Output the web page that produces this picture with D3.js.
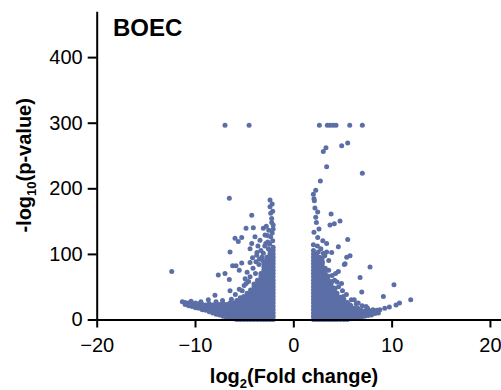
<!DOCTYPE html>
<html>
<head>
<meta charset="utf-8">
<script src="https://cdn.jsdelivr.net/npm/d3@7"></script>
<style>
  body { margin: 0; background: #fff; }
  svg { display: block; font-family: "Liberation Sans", Arial, sans-serif; }
</style>
</head>
<body>
<div id="chart"></div>
<script>
// axis ticks
const xTicks = [-20, -10, 0, 10, 20];
const yTicks = [0, 100, 200, 300, 400];

// scattered genes: [log2FC, -log10 p]
const downOutliers = [
  [-6.95, 296], [-4.5, 296],
  [-6.51, 185], [-2.37, 182], [-2.15, 176], [-2.37, 172], [-2.1, 165], [-2.3, 162],
  [-2.2, 154], [-2.2, 148], [-2.05, 144], [-2.05, 138], [-2.15, 132], [-2.3, 126],
  [-2.1, 120], [-2.6, 118], [-2.4, 115], [-2.9, 112],
  [-4.23, 159], [-4.81, 139], [-4.07, 140], [-3.05, 139], [-3.9, 126], [-5.93, 124],
  [-5.6, 119], [-5.25, 125], [-2.88, 129], [-4.23, 116], [-6.44, 103], [-3.72, 98],
  [-3.05, 101], [-2.54, 108], [-3.39, 121], [-4.4, 108], [-3.6, 112], [-3.3, 105],
  [-3.2, 95], [-3.5, 84], [-3.8, 88],
  [-12.37, 73], [-5.25, 86], [-6.17, 82], [-5.83, 82], [-5.5, 75], [-4.4, 87],
  [-4.7, 72], [-7.63, 68], [-6.95, 70], [-6.51, 61], [-4.4, 65], [-4.9, 62],
  [-5.0, 52], [-6.44, 44], [-5.5, 46], [-7.97, 37], [-8.65, 30], [-7.86, 27],
  [-11.29, 27],
  [-5.9, 38], [-5.2, 44], [-4.8, 55], [-4.55, 58], [-4.1, 78], [-4.15, 94],
  [-3.45, 92], [-3.7, 102], [-2.8, 116], [-2.65, 128], [-2.5, 136], [-2.75, 142],
  [-3.1, 90], [-3.85, 70], [-6.3, 31], [-7.2, 29], [-9.4, 27], [-10.4, 28]
];

const upOutliers = [
  [2.65, 296], [3.46, 296], [3.73, 296], [4.04, 296], [4.34, 296], [5.74, 296], [7.02, 296],
  [3.32, 262], [3.05, 256], [4.92, 265], [5.53, 269], [3.39, 233], [7.02, 223],
  [2.75, 211], [2.28, 197], [2.04, 191], [2.1, 184], [2.14, 181], [2.2, 170],
  [2.48, 164], [2.28, 156], [3.84, 161], [3.73, 144], [4.17, 146], [4.75, 150],
  [2.35, 148], [2.61, 138], [2.1, 133], [2.48, 125], [3.0, 120], [3.39, 116],
  [4.58, 111], [5.53, 122], [2.04, 114], [5.43, 95], [5.77, 97], [5.26, 85],
  [7.8, 80], [3.39, 103], [3.9, 102], [3.05, 101], [2.54, 103], [3.6, 90],
  [6.79, 64], [6.96, 42], [5.09, 35], [9.16, 35], [4.58, 73], [5.19, 84],
  [3.9, 58], [4.3, 70], [4.9, 55], [4.24, 47], [5.77, 22], [6.2, 30], [6.6, 25],
  [7.4, 20], [10.24, 53], [11.94, 30], [10.8, 25], [10.45, 22], [9.77, 19],
  [9.3, 17], [8.8, 15], [7.8, 13],
  [3.6, 75], [3.95, 67], [4.2, 60], [4.6, 50], [4.45, 57], [5.0, 44], [5.4, 38],
  [5.9, 30], [6.4, 24], [7.0, 21], [7.55, 17], [8.1, 15], [8.5, 14],
  [2.8, 108], [3.2, 97], [2.45, 112], [2.95, 94]
];

// densely packed genes near the fold-change cut-off: [log2FC, [-log10 p ...]]
const downDense = [
  [-11.0, [23, 26]],
  [-10.65, [21, 25]],
  [-10.3, [20, 24]],
  [-9.95, [18, 22, 25]],
  [-9.6, [17, 21, 24]],
  [-9.25, [15, 19, 23]],
  [-8.9, [14, 18, 22]],
  [-8.55, [12, 16, 20, 24]],
  [-8.2, [10, 14, 18, 22]],
  [-7.85, [8, 12, 16, 20, 24]],
  [-7.5, [7, 11, 15, 19, 23]],
  [-7.15, [5, 9, 13, 17, 21, 24]],
  [-6.8, [3, 7, 11, 15, 19, 23]],
  [-6.45, [2, 6, 10, 14, 18, 22, 25]],
  [-6.1, [1, 5, 10, 15, 20, 25]],
  [-5.75, [0, 5, 10, 15, 20, 25, 29]],
  [-5.4, [0, 5, 10, 15, 20, 25, 30, 33]],
  [-5.05, [0, 5, 10, 15, 20, 25, 30, 35]],
  [-4.7, [0, 5, 10, 15, 20, 25, 30, 35, 40]],
  [-4.35, [0, 5, 10, 15, 20, 25, 30, 35, 40, 45]],
  [-4.0, [0, 5, 10, 15, 20, 25, 30, 35, 40, 45, 50, 54]],
  [-3.65, [0, 5, 10, 15, 20, 25, 30, 35, 40, 45, 50, 55, 60]],
  [-3.3, [0, 5, 10, 15, 20, 25, 30, 35, 40, 45, 50, 55, 60, 65, 70]],
  [-3.0, [0, 5, 10, 15, 20, 25, 30, 35, 40, 45, 50, 55, 60, 65, 70, 75, 80, 85]],
  [-2.7, [0, 5, 10, 15, 20, 25, 30, 35, 40, 45, 50, 55, 60, 65, 70, 75, 80, 85, 90, 95]],
  [-2.38, [0, 5, 10, 15, 20, 25, 30, 35, 40, 45, 50, 55, 60, 65, 70, 75, 80, 85, 90, 95, 100, 105]],
  [-2.05, [0, 5, 10, 15, 20, 25, 30, 35, 40, 45, 50, 55, 60, 65, 70, 75, 80, 85, 90, 95, 100, 105, 110]]
];

const upDense = [
  [2.05, [0, 5, 10, 15, 20, 25, 30, 35, 40, 45, 50, 55, 60, 65, 70, 75, 80, 85, 90, 95, 100, 105]],
  [2.35, [0, 5, 10, 15, 20, 25, 30, 35, 40, 45, 50, 55, 60, 65, 70, 75, 80, 85, 90, 95, 100]],
  [2.65, [0, 5, 10, 15, 20, 25, 30, 35, 40, 45, 50, 55, 60, 65, 70, 75, 80, 85, 90, 95]],
  [2.95, [0, 5, 10, 15, 20, 25, 30, 35, 40, 45, 50, 55, 60, 65, 70, 75, 80, 85, 88]],
  [3.25, [0, 5, 10, 15, 20, 25, 30, 35, 40, 45, 50, 55, 60, 65, 70, 75, 78]],
  [3.55, [0, 5, 10, 15, 20, 25, 30, 35, 40, 45, 50, 55, 60, 66]],
  [3.85, [0, 5, 10, 15, 20, 25, 30, 35, 40, 45, 50, 55]],
  [4.15, [0, 5, 10, 15, 20, 25, 30, 35, 40, 45, 48]],
  [4.45, [0, 5, 10, 15, 20, 25, 30, 35, 40]],
  [4.8, [0, 5, 10, 15, 20, 25, 30, 34]],
  [5.15, [0, 5, 10, 15, 20, 25, 30]],
  [5.5, [0, 5, 10, 15, 20, 26]],
  [5.85, [1, 6, 11, 16, 21]],
  [6.2, [2, 7, 12, 17]],
  [6.55, [3, 8, 13, 17]],
  [6.9, [4, 9, 14]],
  [7.25, [5, 9, 13]],
  [7.6, [6, 10, 13]],
  [7.95, [7, 11]],
  [8.3, [9, 11]],
  [8.65, [10]]
];

const width = 501, height = 390;
const dotColor = '#5b6ea6';

const x = d3.scaleLinear().domain([-20, 22]).range([96.7, 509.6]);
const y = d3.scaleLinear().domain([0, 470]).range([319.5, 11.2]);

const svg = d3.select('#chart')
  .append('svg')
  .attr('width', width)
  .attr('height', height);

const points = [
  ...downDense.flatMap(([fc, ps]) => ps.map(p => [fc, p])),
  ...upDense.flatMap(([fc, ps]) => ps.map(p => [fc, p])),
  ...downOutliers,
  ...upOutliers
];

svg.append('g')
  .selectAll('circle')
  .data(points)
  .join('circle')
  .attr('cx', d => x(d[0]))
  .attr('cy', d => y(d[1]))
  .attr('r', 2.5)
  .attr('fill', dotColor);

// axes
const xAxis = svg.append('g')
  .attr('transform', `translate(0,${y(0)})`)
  .call(d3.axisBottom(x).tickValues(xTicks).tickSize(8).tickSizeOuter(0).tickPadding(10));

const yAxis = svg.append('g')
  .attr('transform', `translate(${x(-20)},0)`)
  .call(d3.axisLeft(y).tickValues(yTicks).tickSize(9).tickSizeOuter(0).tickPadding(5));

[xAxis, yAxis].forEach(g => {
  g.selectAll('path, line').attr('stroke', '#000').attr('stroke-width', 2);
  g.selectAll('text')
    .attr('fill', '#000')
    .style('font-family', '"Liberation Sans", Arial, sans-serif')
    .style('font-size', '20px');
});

// title
svg.append('text')
  .attr('x', 113)
  .attr('y', 36)
  .style('font-size', '24px')
  .style('font-weight', 'bold')
  .text('BOEC');

// x label
const xl = svg.append('text')
  .attr('x', 294)
  .attr('y', 383)
  .attr('text-anchor', 'middle')
  .style('font-size', '20px')
  .style('font-weight', 'bold');
xl.append('tspan').text('log');
xl.append('tspan').attr('dy', 5).style('font-size', '13px').text('2');
xl.append('tspan').attr('dy', -5).text('(Fold change)');

// y label
const yl = svg.append('text')
  .attr('transform', `translate(31,${(y(0) + 11.2) / 2}) rotate(-90)`)
  .attr('text-anchor', 'middle')
  .style('font-size', '20px')
  .style('font-weight', 'bold');
yl.append('tspan').text('-log');
yl.append('tspan').attr('dy', 5).style('font-size', '13px').text('10');
yl.append('tspan').attr('dy', -5).text('(p-value)');
</script>
</body>
</html>
